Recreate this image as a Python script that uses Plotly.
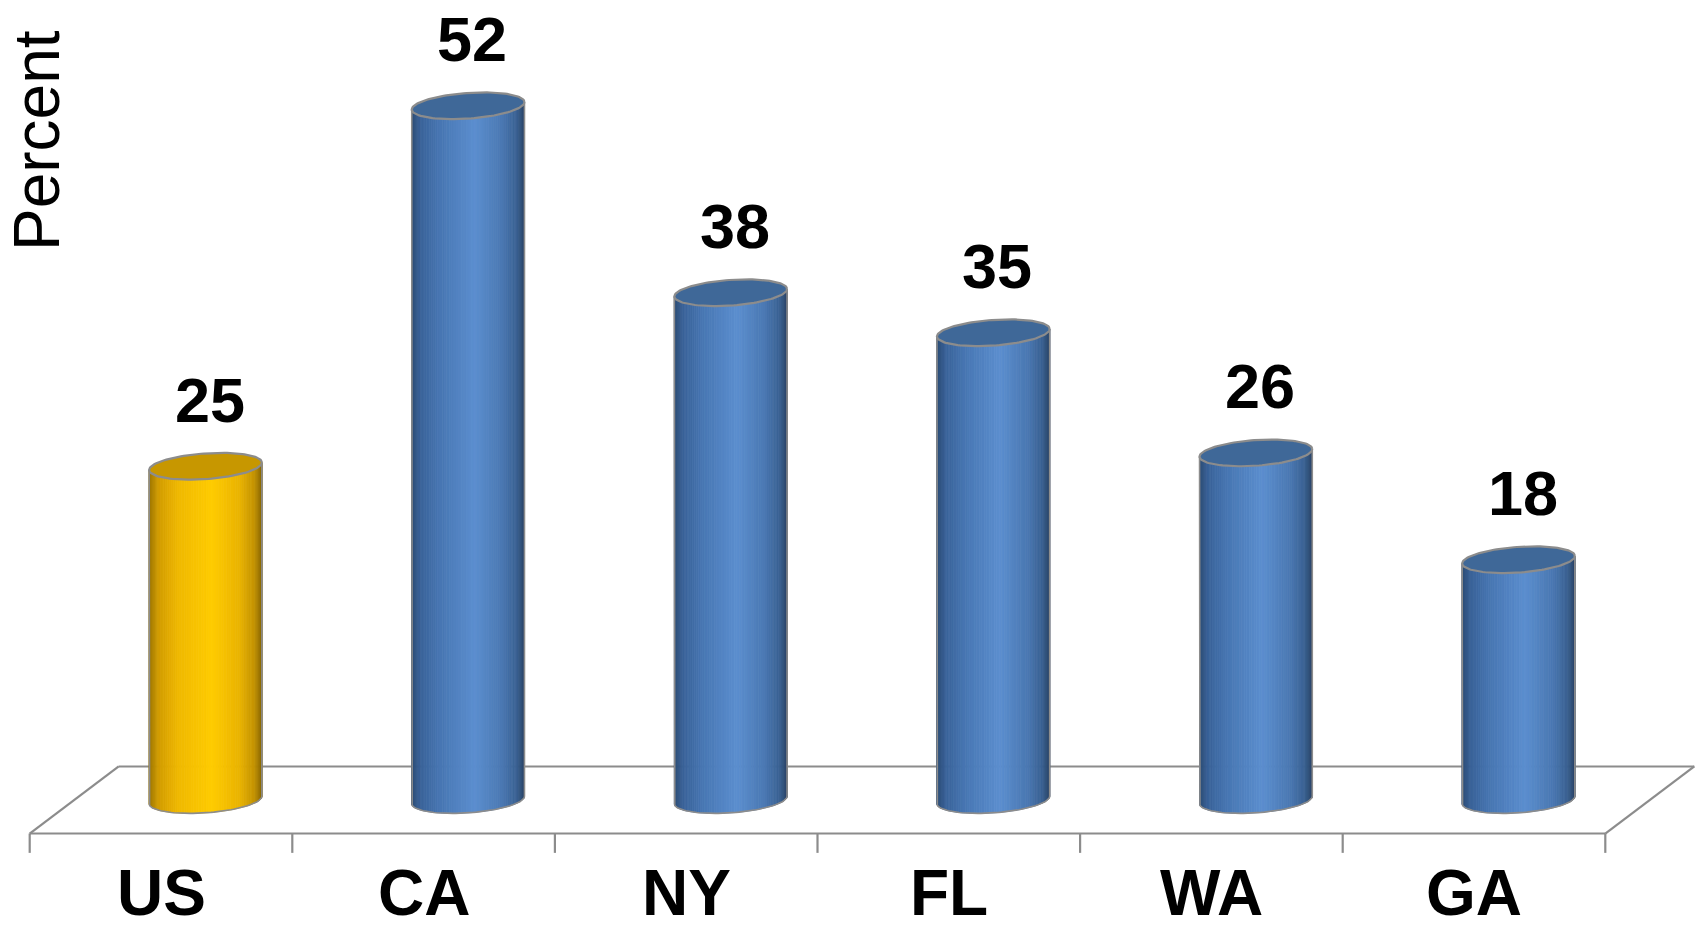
import numpy as np
import plotly.graph_objects as go

# ---------------- data ----------------
categories = ["US", "CA", "NY", "FL", "WA", "GA"]
values = [25, 52, 38, 35, 26, 18]
highlighted = ["US"]
y_title = "Percent"

# ---------------- styling / geometry ----------------
W, H = 1698, 935
PX_X = 262.6          # pixels per category unit
PX_Y = 13.35          # pixels per percent unit
ORIGIN_PX = (161, 800)
A, B, PHI = 56.5, 12.8, np.radians(4.0)   # ellipse semi-axes (px) and tilt
DEPTH_X, DEPTH_Y = 0.339, 5.02            # full floor depth in data units
CYL_OFF = DEPTH_X / 2
LABEL_DX = 4 / PX_X
GREY = "#8c8c8c"
FONT = "Liberation Sans, Arial, sans-serif"

blue_stops = [(0.0, "#2a4a74"), (0.08, "#3a639a"), (0.25, "#4877b3"), (0.55, "#5b8ecf"),
              (0.8, "#4a78b2"), (0.93, "#3a6192"), (1.0, "#2a4468")]
gold_stops = [(0.0, "#9c7400"), (0.08, "#d19c00"), (0.25, "#efb800"), (0.55, "#ffcc00"),
              (0.8, "#e9b300"), (0.93, "#c49300"), (1.0, "#8a6800")]
top_colors = {"blue": "#3f6898", "gold": "#c79700"}


def hex2rgb(h):
    h = h.lstrip("#")
    return np.array([int(h[i:i + 2], 16) for i in (0, 2, 4)], dtype=float)


def grad(stops, u):
    for (u0, c0), (u1, c1) in zip(stops[:-1], stops[1:]):
        if u <= u1:
            t = (u - u0) / (u1 - u0) if u1 > u0 else 0
            c = hex2rgb(c0) * (1 - t) + hex2rgb(c1) * t
            return "rgb(%d,%d,%d)" % tuple(np.round(c))
    c = hex2rgb(stops[-1][1])
    return "rgb(%d,%d,%d)" % tuple(c)


def ell(cx, cy, th):
    ex, ey = A * np.cos(th), B * np.sin(th)
    rx = ex * np.cos(PHI) + ey * np.sin(PHI)
    ry = -ex * np.sin(PHI) + ey * np.cos(PHI)
    return cx + rx / PX_X, cy - ry / PX_Y


fig = go.Figure()

# ---------------- floor ----------------
x0, x1 = -0.5, len(categories) - 0.5
yf, yb = -DEPTH_Y / 2, DEPTH_Y / 2
floor_x = [x0, x1, None, x0 + DEPTH_X, x1 + DEPTH_X, None, x0, x0 + DEPTH_X, None, x1, x1 + DEPTH_X]
floor_y = [yf, yf, None, yb, yb, None, yf, yb, None, yf, yb]
tick_len = 1.45
for i in range(len(categories) + 1):
    floor_x += [None, x0 + i, x0 + i]
    floor_y += [None, yf, yf - tick_len]
fig.add_trace(go.Scatter(x=floor_x, y=floor_y, mode="lines",
                         line=dict(color=GREY, width=2.2), hoverinfo="skip", showlegend=False))

# ---------------- cylinders ----------------
N = 70
thetas = np.linspace(np.pi, 0, N + 1)
for group, stops in (("blue", blue_stops), ("gold", gold_stops)):
    idx = [i for i, c in enumerate(categories) if (c in highlighted) == (group == "gold")]
    for k in range(N):
        t0, t1 = thetas[k], thetas[k + 1]
        u = (np.cos((t0 + t1) / 2) + 1) / 2
        xs, ys = [], []
        for i in idx:
            cx = i + CYL_OFF
            v = values[i]
            bx0, by0 = ell(cx, 0, t0)
            bx1, by1 = ell(cx, 0, t1)
            tx1, ty1 = ell(cx, v, t1)
            tx0, ty0 = ell(cx, v, t0)
            xs += [bx0, bx1, tx1, tx0, bx0, None]
            ys += [by0, by1, ty1, ty0, by0, None]
        col = grad(stops, u)
        fig.add_trace(go.Scatter(x=xs, y=ys, mode="lines", fill="toself", fillcolor=col,
                                 line=dict(color=col, width=0.8), hoverinfo="skip", showlegend=False))

# outlines and tops
th_full = np.linspace(0, 2 * np.pi, 120)
th_front = np.linspace(np.pi, 0, 60)
for i, (c, v) in enumerate(zip(categories, values)):
    cx = i + CYL_OFF
    group = "gold" if c in highlighted else "blue"
    lx, ly = ell(cx, v, np.pi)
    rx, ry = ell(cx, v, 0)
    bx, by = ell(cx, 0, th_front)
    ox = [lx] + list(bx) + [rx]
    oy = [ly] + list(by) + [ry]
    fig.add_trace(go.Scatter(x=ox, y=oy, mode="lines", line=dict(color=GREY, width=1.6),
                             hoverinfo="skip", showlegend=False))
    ex, ey = ell(cx, v, th_full)
    fig.add_trace(go.Scatter(x=ex, y=ey, mode="lines", fill="toself", fillcolor=top_colors[group],
                             line=dict(color=GREY, width=2.2), hoverinfo="skip", showlegend=False))
    fig.add_annotation(x=cx + LABEL_DX, y=v + 5.0, text="<b>%d</b>" % v, showarrow=False,
                       font=dict(family=FONT, size=63, color="black"), xanchor="center", yanchor="middle")
    fig.add_annotation(x=i, y=-6.95, text="<b>%s</b>" % c, showarrow=False,
                       font=dict(family=FONT, size=64, color="black"), xanchor="center", yanchor="middle")

fig.add_annotation(x=(37 - ORIGIN_PX[0]) / PX_X, y=(ORIGIN_PX[1] - 141) / PX_Y, text=y_title,
                   textangle=-90, showarrow=False, font=dict(family=FONT, size=64, color="black"),
                   xanchor="center", yanchor="middle")

fig.update_layout(
    width=W, height=H, margin=dict(l=0, r=0, t=0, b=0),
    paper_bgcolor="white", plot_bgcolor="white", showlegend=False,
    xaxis=dict(range=[-ORIGIN_PX[0] / PX_X, (W - ORIGIN_PX[0]) / PX_X], visible=False, fixedrange=True),
    yaxis=dict(range=[(ORIGIN_PX[1] - H) / PX_Y, ORIGIN_PX[1] / PX_Y], visible=False, fixedrange=True),
)

fig.write_html("out.html")
